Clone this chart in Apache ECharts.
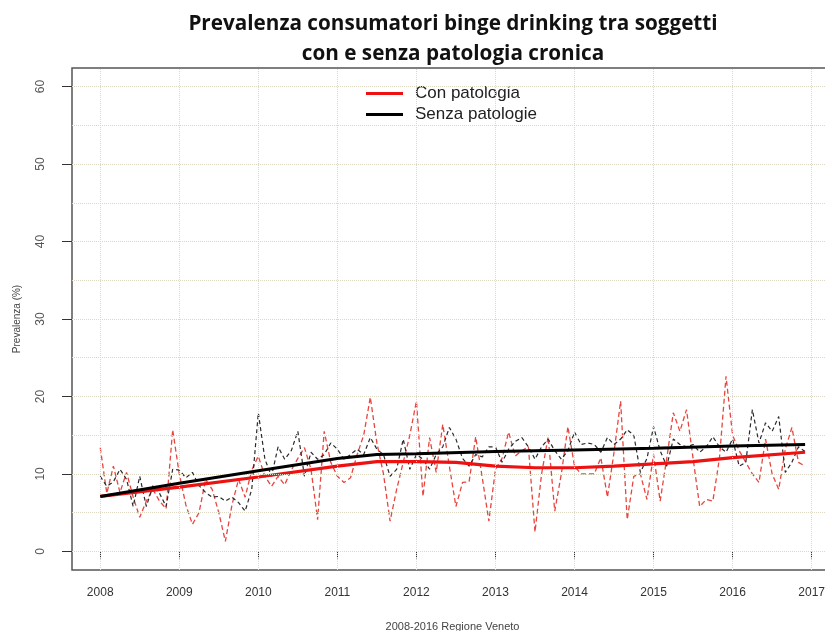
<!DOCTYPE html>
<html>
<head>
<meta charset="utf-8">
<script src="https://cdn.jsdelivr.net/npm/echarts@6/dist/echarts.min.js"></script>
<style>html,body{margin:0;padding:0;background:#fff;overflow:hidden}#c{width:825px;height:631px}</style>
</head>
<body>
<div id="c"></div>
<script>
// Monthly prevalence (%) Jan 2008 - Dec 2016
const startYear = 2008;
const conPatologia = [
13.4,7.5,11,7.6,10.2,7,4.4,6.5,8,6.5,5.5,15.7,
10,6,3.5,5,9.3,8,5,1.3,6,9.3,7,10.5,
12.3,9.7,8.4,9.7,8.6,10.5,12,13.4,10.6,4.1,15.5,11.5,
9.7,8.9,9.5,12.5,15,19.9,14,10,3.9,8,11.5,15,
19.4,7.1,14.7,10.2,16.4,11,5.8,8.9,9,14.8,9.5,3.9,
10.6,12,15.4,12.3,13,13.5,2.5,10,14.8,5.2,10,16.1,
11,10,10,10,12.1,7,12.8,19.4,4.1,9.7,10,6.7,
12.5,6.5,12,17.9,15.5,18.3,12,5.8,6.7,6.5,12,22.6,
15,13,11.5,10,8.9,14.5,10,8,13.2,16,11.5,11];
const senzaPatologie = [
9.7,8.4,9,10.6,9.3,5.8,9.7,5.8,8.5,7.5,5.8,10.6,
10.5,9.5,10.2,8.5,7.6,7,7.1,6.5,7,6.3,5.2,8,
17.9,11.9,9.7,13.5,11.9,13,15.5,9.7,12.8,11.9,12.5,14,
13.2,11.9,12.5,13.2,12.5,14.7,13.2,12.5,9.7,10.6,14.5,10.6,
12.5,11.9,10.6,12.5,13.5,16,14.5,12,11,12.5,12.2,13.5,
13.5,11.5,13.2,14.2,14.7,13.5,11.9,13.5,14.5,13,11.9,13,
15.4,13.8,14,13.8,12.8,14.7,13.8,14.5,15.7,15,10.2,12,
16.1,13,11,14.5,13.8,13.5,13.8,12.8,13.5,14.8,13.5,12.8,
14.5,11,11.5,18.3,14,16.6,15.5,17.4,10.2,11.5,13.5,12.9];
// Smoothed trends (year, %)
const trendConYears  = [2008, 2009, 2010, 2011, 2011.5, 2012, 2012.5, 2013, 2013.5, 2014, 2014.5, 2015, 2015.5, 2016, 2016.917];
const trendConValues = [7.1, 8.3, 9.6, 11.0, 11.6, 11.6, 11.5, 11.0, 10.8, 10.8, 11.0, 11.3, 11.6, 12.1, 12.8];
const trendSenzaYears  = [2008, 2009, 2010, 2011, 2011.5, 2012, 2013, 2014, 2015, 2016, 2016.917];
const trendSenzaValues = [7.1, 8.8, 10.4, 12.0, 12.5, 12.6, 12.9, 13.1, 13.3, 13.6, 13.8];
const xTicks = [2008,2009,2010,2011,2012,2013,2014,2015,2016,2017];
const yTicks = [0,10,20,30,40,50,60];
const yGrid = [0,5,10,15,20,25,30,35,40,45,50,55,60];

const monthly = arr => arr.map((v, i) => [startYear + i / 12, v]);
const pairs = (xs, ys) => xs.map((x, i) => [x, ys[i]]);

const gridLine = {type: 'dotted', color: '#dcd8c4', width: 1};
const chart = echarts.init(document.getElementById('c'));
chart.setOption({
  animation: false,
  title: {
    text: 'Prevalenza consumatori binge drinking tra soggetti\ncon e senza patologia cronica',
    left: 448, top: 4, textAlign: 'center',
    textStyle: {fontFamily: 'Open Sans', fontWeight: 'bold', fontSize: 20.7, lineHeight: 30, color: '#111'}
  },
  legend: {
    orient: 'vertical', left: 361, top: 80, itemWidth: 37, itemHeight: 3, itemGap: 4, icon: 'rect',
    data: ['Con patologia', 'Senza patologie'],
    textStyle: {fontFamily: 'Liberation Sans', fontSize: 17, lineHeight: 17, color: '#222', padding: [0,0,0,7]}
  },
  grid: {left: 72, width: 761, top: 68, bottom: 61, outerBoundsMode: 'none', containLabel: false,
         show: true, borderColor: '#555', borderWidth: 1.5},
  xAxis: {
    type: 'value', min: 2007.643, max: 2017.27,
    name: '2008-2016 Regione Veneto', nameLocation: 'middle', nameGap: 51,
    nameTextStyle: {fontFamily: 'Liberation Sans', fontSize: 11, color: '#444'},
    axisLine: {show: false},
    axisTick: {show: true, customValues: xTicks, length: 7, lineStyle: {color: '#333'}},
    axisLabel: {customValues: xTicks, formatter: v => String(v), margin: 17, fontFamily: 'Liberation Sans', fontSize: 12, color: '#333'},
    splitLine: {show: false}
  },
  yAxis: {
    type: 'value', min: -2.4, max: 62.4,
    name: 'Prevalenza (%)', nameLocation: 'middle', nameGap: 50,
    nameTextStyle: {fontFamily: 'Liberation Sans', fontSize: 10, color: '#444'},
    axisLine: {show: false},
    axisTick: {show: true, customValues: yTicks, length: 10, lineStyle: {color: '#333'}},
    axisLabel: {customValues: yTicks, rotate: 90, margin: 25, fontFamily: 'Liberation Sans', fontSize: 12, color: '#555'},
    splitLine: {show: false}
  },
  series: [
    {
      name: 'grid', type: 'line', data: [], silent: true, z: 1,
      markLine: {
        silent: true, symbol: 'none', label: {show: false}, lineStyle: gridLine, animation: false,
        data: yGrid.map(v => ({yAxis: v})).concat(xTicks.map(v => ({xAxis: v})))
      }
    },
    {name: 'Con patologia (mensile)', type: 'line', data: monthly(conPatologia), symbol: 'none', z: 2,
     lineStyle: {color: '#e8453e', width: 1.3, type: [5, 3]}},
    {name: 'Senza patologie (mensile)', type: 'line', data: monthly(senzaPatologie), symbol: 'none', z: 3,
     lineStyle: {color: '#2a2a2a', width: 1.2, type: [4, 3]}},
    {name: 'Con patologia', type: 'line', data: pairs(trendConYears, trendConValues), symbol: 'none', z: 4,
     lineStyle: {color: '#ee1111', width: 3.2}, itemStyle: {color: '#ee1111'}},
    {name: 'Senza patologie', type: 'line', data: pairs(trendSenzaYears, trendSenzaValues), symbol: 'none', z: 5,
     lineStyle: {color: '#000', width: 3}, itemStyle: {color: '#000'}}
  ]
});
</script>
</body>
</html>
